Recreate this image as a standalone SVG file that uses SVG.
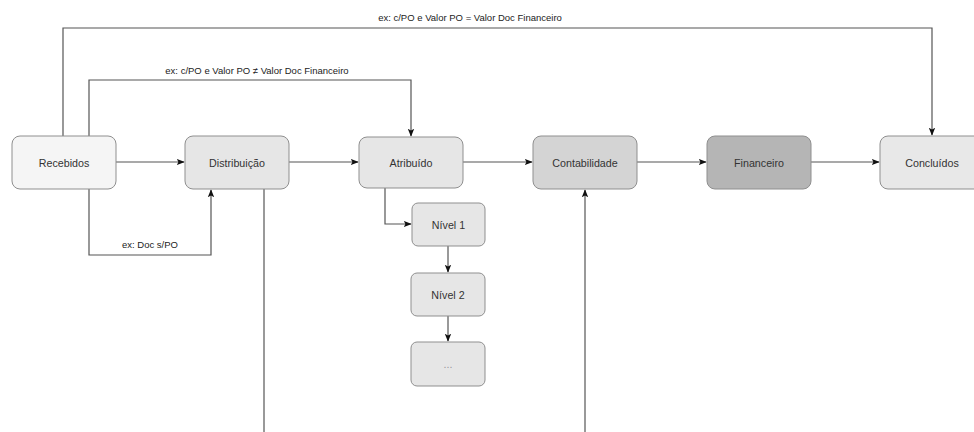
<svg xmlns="http://www.w3.org/2000/svg" width="974" height="432" viewBox="0 0 974 432">
<style>
.n{stroke:#8f8f8f;stroke-width:1;}
.t{font-family:"Liberation Sans",Arial,sans-serif;font-size:10.7px;fill:#333;text-anchor:middle;dominant-baseline:central;}
.l{font-family:"Liberation Sans",Arial,sans-serif;font-size:9.5px;fill:#222;text-anchor:middle;}
.c{fill:none;stroke:#555;stroke-width:1.2;}
</style>
<defs>
<marker id="a" viewBox="0 0 10 10" refX="9" refY="5" markerWidth="8" markerHeight="8" markerUnits="userSpaceOnUse" orient="auto"><path d="M0,1 L10,5 L0,9 L2,5 Z" fill="#111"/></marker>
</defs>
<rect width="974" height="432" fill="#fff"/>
<g id="connectors">
<path class="c" d="M116,162 H184" marker-end="url(#a)"/>
<path class="c" d="M289,162 H358" marker-end="url(#a)"/>
<path class="c" d="M463,162 H532" marker-end="url(#a)"/>
<path class="c" d="M637,162 H706" marker-end="url(#a)"/>
<path class="c" d="M811,162 H879" marker-end="url(#a)"/>
<path class="c" d="M63,136 V28 H932 V135" marker-end="url(#a)"/>
<path class="c" d="M89,136 V80 H411 V136" marker-end="url(#a)"/>
<path class="c" d="M89,189 V255 H211 V190" marker-end="url(#a)"/>
<path class="c" d="M385,188 V224 H411" marker-end="url(#a)"/>
<path class="c" d="M448,246 V272" marker-end="url(#a)"/>
<path class="c" d="M448,316 V341" marker-end="url(#a)"/>
<path class="c" d="M264,189 V432"/>
<path class="c" d="M585,432 V190" marker-end="url(#a)"/>
<text class="l" x="470" y="21">ex: c/PO e Valor PO = Valor Doc Financeiro</text>
<text class="l" x="257" y="74">ex: c/PO e Valor PO ≠ Valor Doc Financeiro</text>
<text class="l" x="150" y="248">ex: Doc s/PO</text>
</g>
<g id="recebidos"><rect class="n" x="12" y="136" width="104" height="53" rx="8" fill="#f5f5f5"/><text class="t" x="64" y="162.5">Recebidos</text></g>
<g id="distribuicao"><rect class="n" x="185" y="136" width="104" height="53" rx="8" fill="#e6e6e6"/><text class="t" x="237" y="162.5">Distribuição</text></g>
<g id="atribuido"><rect class="n" x="359" y="137" width="104" height="51" rx="8" fill="#e6e6e6"/><text class="t" x="411" y="162.5">Atribuído</text></g>
<g id="contabilidade"><rect class="n" x="533" y="136" width="104" height="53" rx="8" fill="#d4d4d4"/><text class="t" x="585" y="162.5">Contabilidade</text></g>
<g id="financeiro"><rect class="n" x="707" y="136" width="104" height="53" rx="8" fill="#b5b5b5" stroke="#777"/><text class="t" x="759" y="162.5">Financeiro</text></g>
<g id="concluidos"><rect class="n" x="880" y="136" width="104" height="53" rx="8" fill="#e8e8e8"/><text class="t" x="932" y="162.5">Concluídos</text></g>
<g id="nivel1"><rect class="n" x="412" y="203" width="73" height="43" rx="6" fill="#e6e6e6"/><text class="t" x="448.5" y="224.5">Nível 1</text></g>
<g id="nivel2"><rect class="n" x="411" y="273" width="74" height="43" rx="6" fill="#e6e6e6"/><text class="t" x="448" y="294.5">Nível 2</text></g>
<g id="etc"><rect class="n" x="411" y="342" width="74" height="44" rx="6" fill="#e6e6e6"/><text class="t" x="448" y="364" style="fill:#999">...</text></g>
</svg>
